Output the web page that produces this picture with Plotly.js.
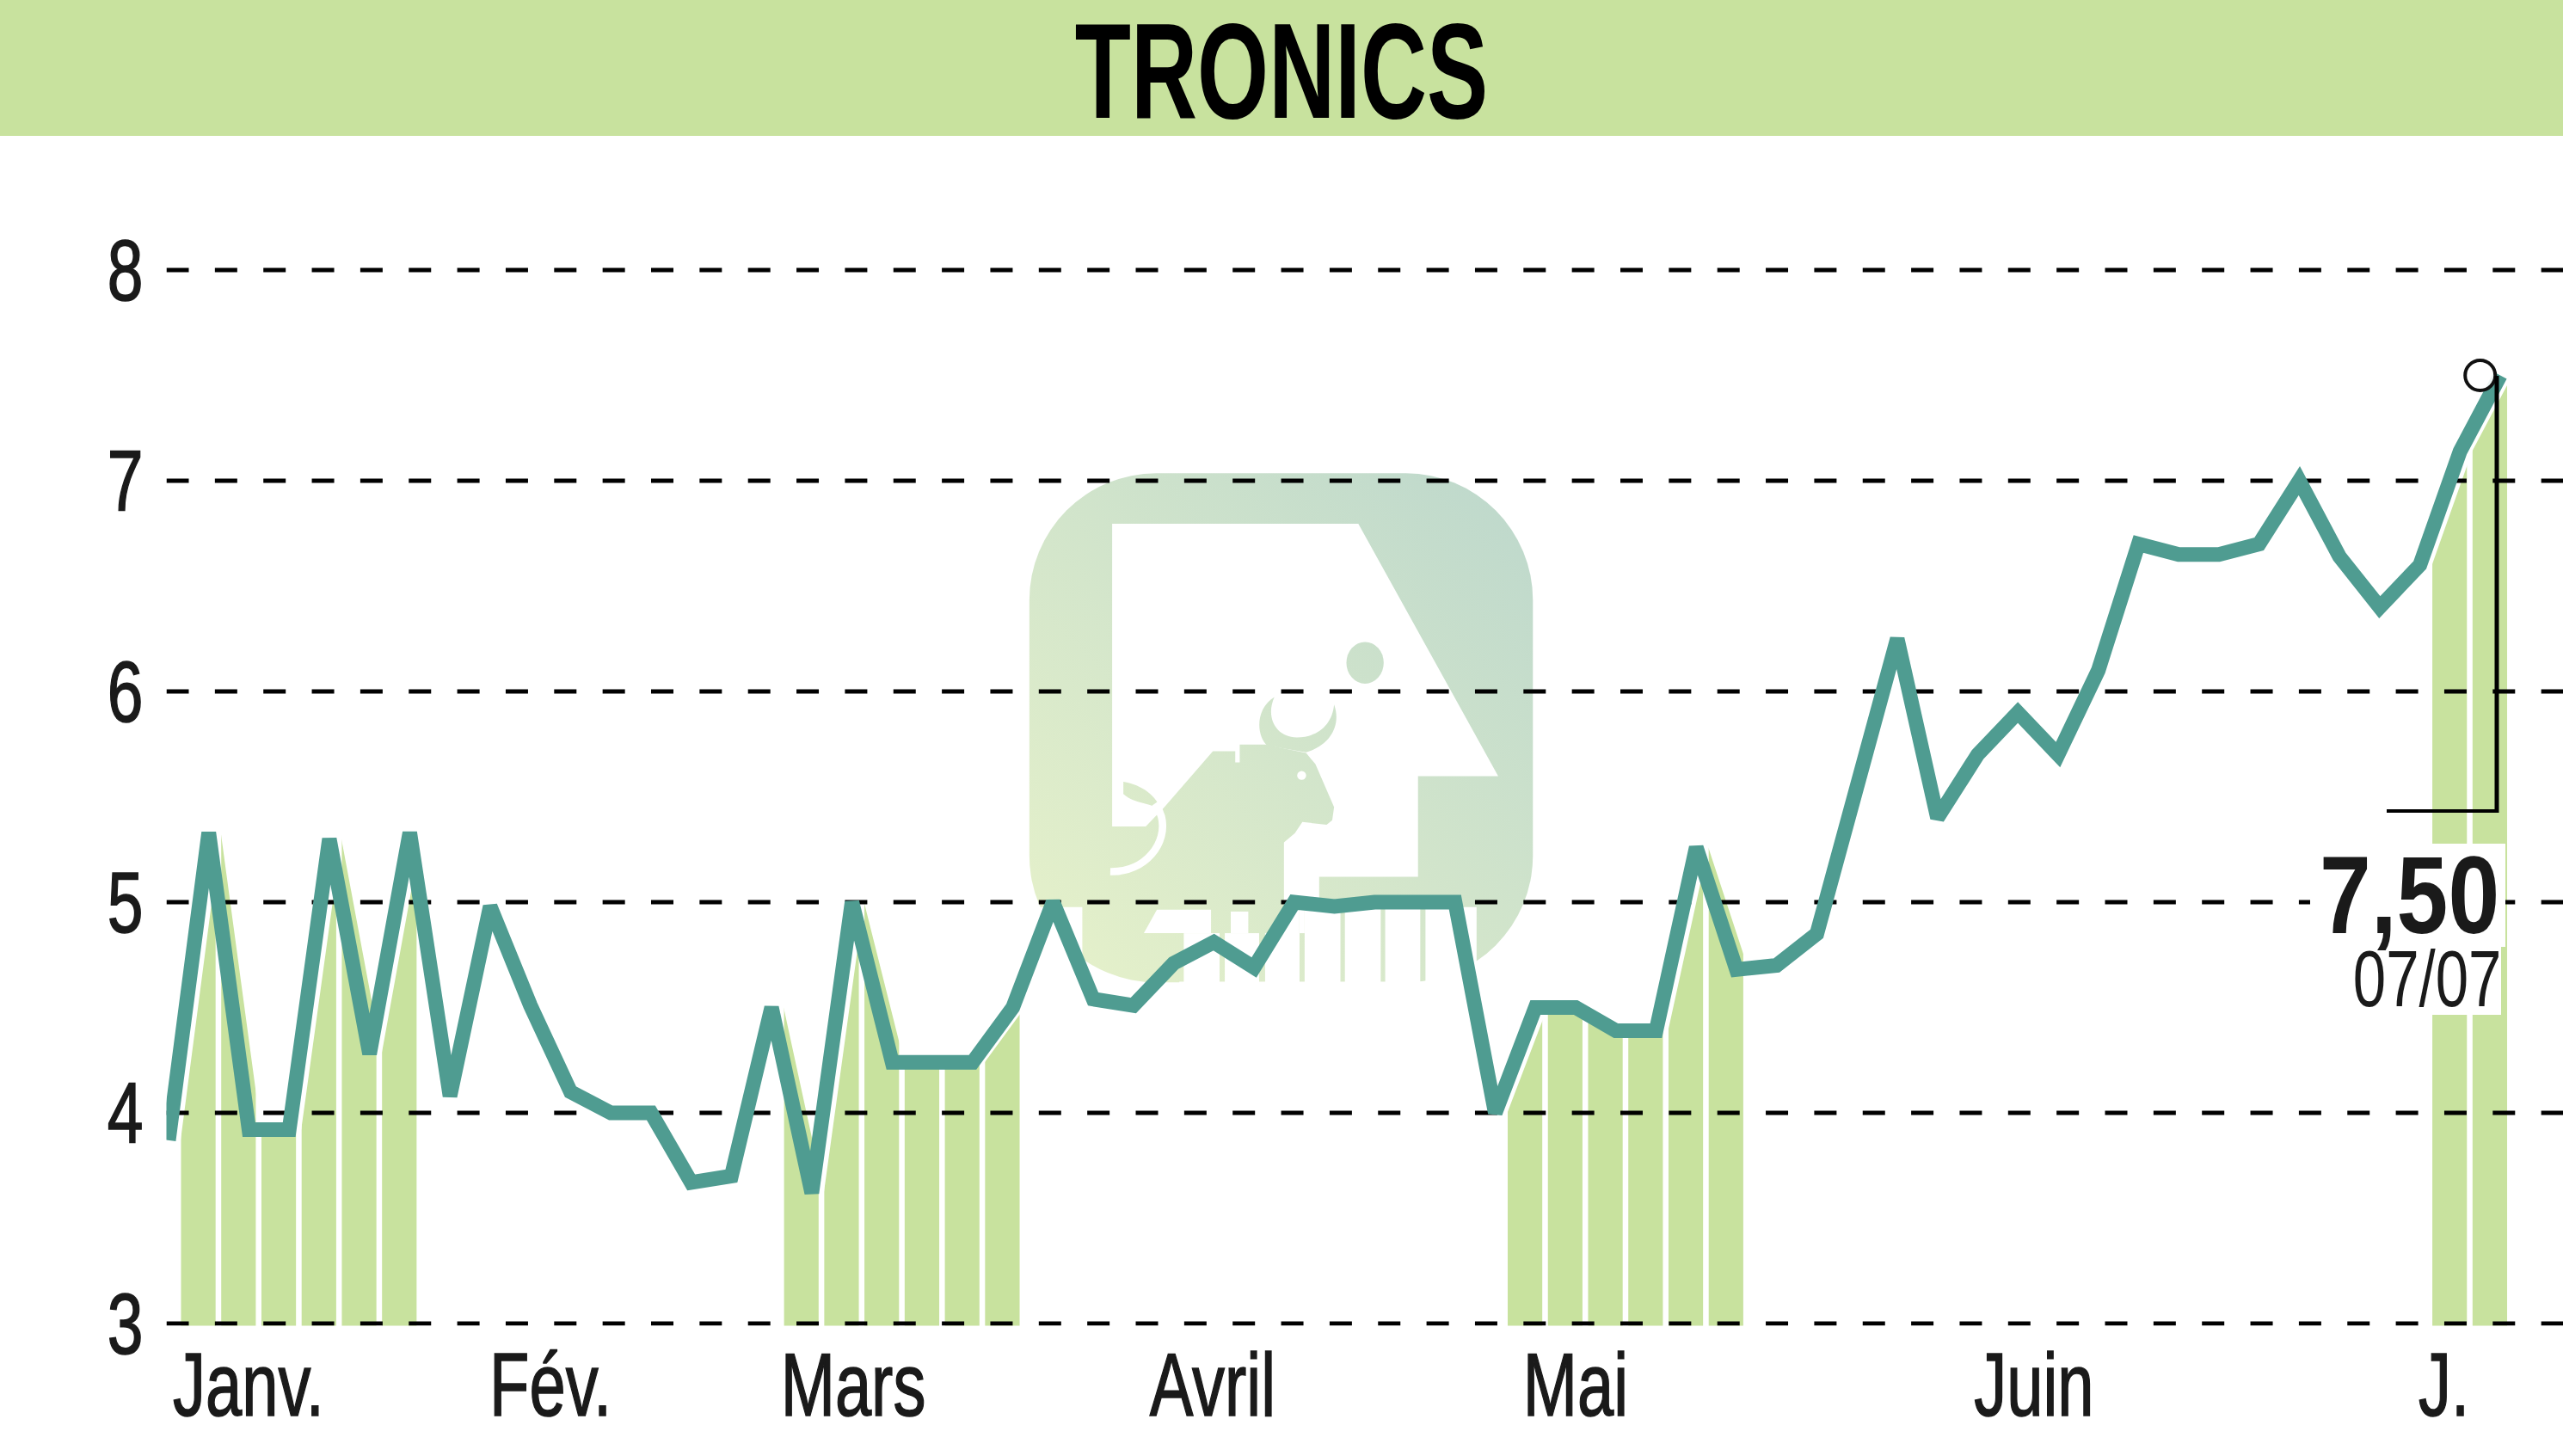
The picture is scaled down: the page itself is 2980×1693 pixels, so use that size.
<!DOCTYPE html>
<html>
<head>
<meta charset="utf-8">
<script src="https://cdn.plot.ly/plotly-3.0.1.min.js"></script>
<style>html,body{margin:0;padding:0;background:#fff}#chart{width:2980px;height:1693px}
#chart .xtick text,#chart .ytick text{stroke:#1a1a1a;stroke-width:1.6px}
</style>
</head>
<body>
<div id="chart"></div>
<script>
const chartTitle = 'TRONICS';
const closeValues = [3.87,5.33,3.92,3.92,5.3,4.28,5.33,4.08,4.98,4.51,4.1,4.0,4.0,3.67,3.7,4.5,3.62,5.0,4.24,4.24,4.24,4.5,5.0,4.54,4.51,4.71,4.81,4.69,5.0,4.98,5.0,5.0,5.0,4.0,4.5,4.5,4.39,4.39,5.26,4.68,4.7,4.85,5.55,6.25,5.4,5.7,5.9,5.7,6.1,6.7,6.65,6.65,6.7,7.0,6.64,6.4,6.6,7.14,7.5];
const monthNames = ['Janv.','Fév.','Mars','Avril','Mai','Juin','J.'];
const monthLabelPos = [1.99,9.5,17.03,25.97,35.0,46.4,56.6];
const yTicks = [3,4,5,6,7,8];
const barJanX = [0,1,2,3,4,5];
const barJanTop = [5.33,5.33,3.92,5.3,5.3,5.33];
const barMarsX = [15,16,17,18,19,20];
const barMarsTop = [4.5,5.0,5.0,4.24,4.24,5.0];
const barMaiX = [33,34,35,36,37,38];
const barMaiTop = [4.5,4.5,4.5,4.39,5.26,5.26];
const barJuilX = [56,57];
const barJuilTop = [7.14,7.5];
const lastLabel = '7,50';
const lastDate = '07/07';

const W = 2980, H = 1693;
const px = x => x / W, py = y => 1 - y / H;
const GREEN = '#c8e29e', TEAL = '#4f9c91', INK = '#1a1a1a', FONT = '"Liberation Sans","Arial",sans-serif';
const idx = closeValues.map((_, i) => i);
const SHIFT = 0.3, BAR_OFF = 0.74, xMin = -0.053, xMax = 59.56;

function barTrace(xs, tops) {
  return {type:'bar', x: xs.map(v => v + BAR_OFF), y: tops, width: 0.86, marker:{color:GREEN, line:{width:0}}, hoverinfo:'skip', showlegend:false};
}
function maskTrace(a, b, top) {
  const xs = idx.slice(a, b + 1).map(v => v + SHIFT);
  const ys = closeValues.slice(a, b + 1);
  return {type:'scatter', mode:'none', x: xs.concat(xs.slice().reverse()), y: ys.concat(xs.map(() => top)),
          fill:'toself', fillcolor:'#ffffff', hoverinfo:'skip', showlegend:false};
}
const gridTraces = yTicks.map(v => ({
  type:'scatter', mode:'lines', x:[xMin, xMax], y:[v, v], cliponaxis:false,
  line:{color:'#000000', width:5, dash:'26px,30.35px'}, hoverinfo:'skip', showlegend:false
}));

const data = [
  barTrace(barJanX, barJanTop), barTrace(barMarsX, barMarsTop), barTrace(barMaiX, barMaiTop), barTrace(barJuilX, barJuilTop),
  maskTrace(0, 6, 5.5), maskTrace(15, 21, 5.1), maskTrace(33, 35, 4.55), maskTrace(35, 39, 5.4), maskTrace(56, 58, 7.6),
  ...gridTraces,
  {type:'scatter', mode:'lines', x: idx, y: closeValues, line:{color:TEAL, width:17}, cliponaxis:false, hoverinfo:'skip', showlegend:false},
  {type:'scatter', mode:'markers', x:[57.5], y:[7.5], marker:{symbol:'circle', size:35, color:'rgba(255,255,255,0.9)', line:{color:'#111111', width:4}}, cliponaxis:false, hoverinfo:'skip', showlegend:false}
];

const logo = `<svg xmlns="http://www.w3.org/2000/svg" viewBox="0 0 1568 1568" width="1568" height="1568">
<defs><linearGradient id="g" gradientUnits="userSpaceOnUse" x1="200" y1="1350" x2="1400" y2="150"><stop offset="0" stop-color="#e4f0ca"/><stop offset="1" stop-color="#bfd9cc"/></linearGradient></defs>
<rect x="108" y="70" width="1350" height="1365" rx="340" ry="340" fill="url(#g)"/>
<polygon fill="#fff" points="330,205 990,205 1365,882 1150,882 1150,1152 885,1152 885,1233 790,1233 790,1017 330,1017"/>
<ellipse cx="1008" cy="578" rx="50" ry="56" fill="url(#g)"/>
<polygon fill="url(#g)" points="600,815 660,815 660,845 672,845 672,797 740,797 850,820 875,850 925,965 920,1000 905,1012 840,1005 820,1035 790,1060 790,1240 420,1240 420,1017 470,965"/>
<path fill="url(#g)" d="M765,670 C715,700 715,770 745,800 L850,818 C915,800 945,745 925,690 C920,745 880,778 825,778 C770,778 740,725 765,670 Z"/>
<circle cx="838" cy="880" r="12" fill="#fff"/>
<path fill="url(#g)" d="M360,897 C410,905 450,935 462,975 C430,950 395,960 360,930 Z"/>
<path fill="none" stroke="#fff" stroke-width="20" d="M325,1138 C420,1140 480,1060 462,990 C458,975 452,965 445,955"/>
<polygon fill="#fff" points="415,1303 450,1240 595,1240 595,1303"/>
<rect x="648" y="1245" width="47" height="58" fill="#fff"/>
<g fill="#fff">
<rect x="0" y="1233" width="250" height="335"/>
<rect x="510" y="1433" width="810" height="135"/>
<rect x="522" y="1303" width="96" height="265"/>
<rect x="632" y="1303" width="92" height="265"/>
<rect x="740" y="1303" width="92" height="265"/>
<rect x="790" y="1233" width="42" height="335"/>
<rect x="832" y="1233" width="14" height="70"/>
<rect x="846" y="1233" width="96" height="335"/>
<rect x="954" y="1233" width="96" height="335"/>
<rect x="1062" y="1233" width="94" height="335"/>
<rect x="1170" y="1233" width="137" height="335"/>
</g>
</svg>`;

function pxRect(x0, y0, x1, y1, fill, layer) {
  return {type:'rect', xref:'paper', yref:'paper', x0:px(x0), x1:px(x1), y0:py(y0), y1:py(y1), fillcolor:fill, line:{width:0}, layer};
}
function pxLine(x0, y0, x1, y1, w) {
  return {type:'line', xref:'paper', yref:'paper', x0:px(x0), x1:px(x1), y0:py(y0), y1:py(y1), line:{color:'#000000', width:w}, layer:'above'};
}

const layout = {
  width: W, height: H, autosize:false,
  margin:{l:0, r:0, t:0, b:0, pad:0},
  paper_bgcolor:'#ffffff', plot_bgcolor:'rgba(0,0,0,0)',
  showlegend:false, barmode:'overlay',
  title:{text:chartTitle, x:0.5, xref:'paper', xanchor:'center', y:py(82), yref:'paper', yanchor:'middle', automargin:false,
         font:{family:FONT, size:157, color:'#000000', weight:700}},
  xaxis:{domain:[px(193.5), 1], range:[xMin, xMax], showgrid:false, zeroline:false, showline:false,
         tickmode:'array', tickvals:monthLabelPos, ticktext:monthNames, ticks:'', ticklabelstandoff:0,
         tickfont:{family:FONT, size:104, color:INK}},
  yaxis:{domain:[py(1541.45), py(309.1)], range:[2.99, 8.02], showgrid:false, zeroline:false, showline:false,
         tickmode:'array', tickvals:yTicks, ticktext:yTicks.map(String), ticks:'', ticklabelstandoff:26,
         tickfont:{family:FONT, size:100, color:INK}},
  images:[{source:'data:image/svg+xml;charset=utf-8,' + encodeURIComponent(logo), xref:'paper', yref:'paper',
           x:px(1150), y:py(520), sizex:680/W, sizey:680/H, xanchor:'left', yanchor:'top', sizing:'stretch', layer:'below'}],
  shapes:[
    pxRect(0, 0, W, 158, GREEN, 'below'),
    pxRect(2686, 981, 2913, 1101, '#ffffff', 'above'),
    pxRect(2733, 1101, 2908, 1180, '#ffffff', 'above'),
    pxLine(2903, 437, 2903, 945, 5),
    pxLine(2775, 943, 2905, 943, 4)
  ],
  annotations:[
    {xref:'paper', yref:'paper', x:px(2801), y:py(1040), xanchor:'center', yanchor:'middle', text:lastLabel, showarrow:false,
     font:{family:FONT, size:128, color:INK, weight:700}},
    {xref:'paper', yref:'paper', x:px(2822), y:py(1138), xanchor:'center', yanchor:'middle', text:lastDate, showarrow:false,
     font:{family:FONT, size:92, color:INK}}
  ]
};

function narrow(sel, sx) {
  document.querySelectorAll(sel).forEach(t => {
    const x = parseFloat(t.getAttribute('x')) || 0;
    const prev = t.getAttribute('transform') || '';
    t.setAttribute('transform', `${prev} translate(${x},0) scale(${sx},1) translate(${-x},0)`);
  });
}
Plotly.newPlot('chart', data, layout, {displayModeBar:false, staticPlot:true}).then(() => {
  narrow('#chart .xtick text', 0.73);
  narrow('#chart .ytick text', 0.75);
  narrow('#chart .gtitle', 0.68);
  const notes = document.querySelectorAll('#chart .annotation-text');
  if (notes[0]) { notes[0].classList.add('n0'); narrow('#chart .n0', 0.84); }
  if (notes[1]) { notes[1].classList.add('n1'); narrow('#chart .n1', 0.75); }
});
</script>
</body>
</html>
